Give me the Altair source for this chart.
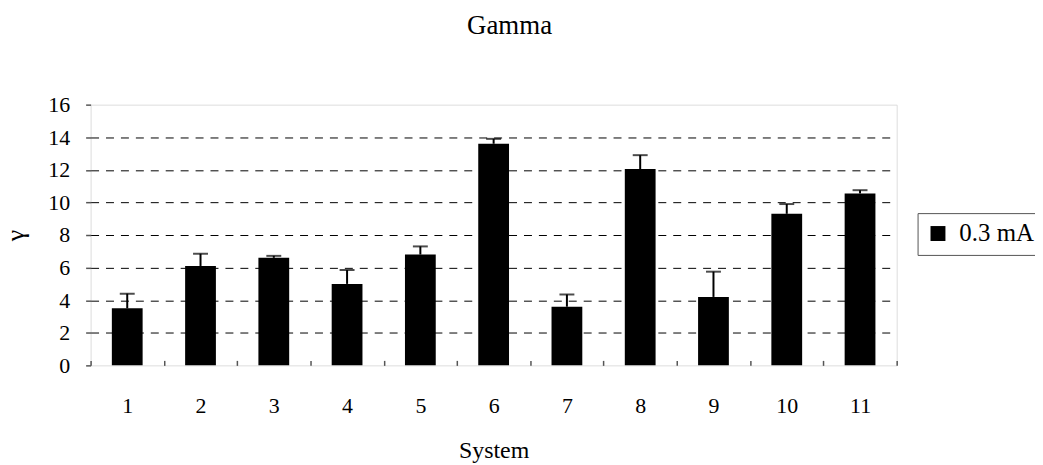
import altair as alt
import pandas as pd

systems = [str(i) for i in range(1, 12)]
gamma = [3.5, 6.1, 6.6, 5.0, 6.8, 13.6, 3.6, 12.05, 4.2, 9.3, 10.55]
err = [0.9, 0.75, 0.12, 0.85, 0.5, 0.3, 0.75, 0.85, 1.55, 0.6, 0.2]
series = ["0.3 mA"] * len(systems)
y_ticks = [0, 2, 4, 6, 8, 10, 12, 14, 16]

df = pd.DataFrame({"System": systems, "gamma": gamma, "err": err, "series": series})
df["upper"] = df["gamma"] + df["err"]

FONT = "Liberation Serif"
yscale = alt.Scale(domain=[0, 16], nice=False, zero=True)
xscale = alt.Scale(paddingInner=0, paddingOuter=0)

xaxis = alt.Axis(
    title="System", labelAngle=0, grid=False, domain=False, offset=-5,
    tickBand="extent", tickSize=5, tickColor="#555555", tickWidth=1.5,
    labelPadding=30, titlePadding=23, labelFontSize=22, titleFontSize=24,
    labelColor="black", titleColor="black", labelFont=FONT, titleFont=FONT,
    titleFontWeight="normal",
)

yaxis = alt.Axis(
    title="γ", values=y_ticks, labelOverlap=False, grid=True,
    gridDash=[8, 7], gridColor="black", gridWidth=1,
    gridOpacity=alt.condition("datum.value == 0 || datum.value == 16", alt.value(0), alt.value(1)),
    domain=False, tickSize=5, tickColor="#555555", tickWidth=1.5,
    labelPadding=16, titlePadding=19, labelFontSize=22, titleFontSize=26,
    labelColor="black", titleColor="black", labelFont=FONT, titleFont=FONT,
    titleFontWeight="normal",
)

x = alt.X("System:N", sort=systems, scale=xscale, axis=xaxis)

base = alt.Chart(df).encode(x=x)

bars = base.mark_bar(width=alt.RelativeBandSize(0.42)).encode(
    y=alt.Y("gamma:Q", scale=yscale, axis=yaxis),
    color=alt.Color(
        "series:N", scale=alt.Scale(range=["black"]),
        legend=alt.Legend(
            title=None, orient="none", legendX=831, legendY=109,
            symbolType="square", symbolSize=225, symbolStrokeWidth=0,
            labelFontSize=25, labelFont=FONT, labelColor="black",
            strokeColor="#555555", fillColor="white", padding=8,
            cornerRadius=0, labelOffset=9,
        ),
    ),
)

rules = base.mark_rule(color="black", strokeWidth=2).encode(
    y=alt.Y("gamma:Q", scale=yscale, axis=yaxis),
    y2="upper:Q",
)

caps = base.mark_tick(color="black", thickness=2, size=15).encode(
    y=alt.Y("upper:Q", scale=yscale, axis=yaxis),
)

chart = alt.layer(bars, rules, caps).properties(
    width=810, height=262,
    title=alt.TitleParams(
        "Gamma", font=FONT, fontSize=27, fontWeight="normal", color="black",
        anchor="middle", dx=16, offset=54,
    ),
    autosize=alt.AutoSizeParams(type="none"),
    padding={"left": 83, "top": 96, "right": 139, "bottom": 99},
).configure_view(stroke="#808080", strokeWidth=2).configure(background="white")

chart.save("out.html", embed_options={"renderer": "svg", "actions": False})
